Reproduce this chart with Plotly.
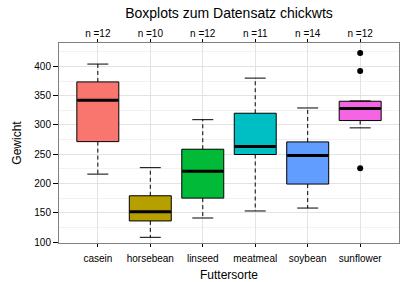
import plotly.graph_objects as go

# ---- data (chickwts, Tukey five-number summaries) ----
categories = ["casein", "horsebean", "linseed", "meatmeal", "soybean", "sunflower"]
n_counts = [12, 10, 12, 11, 14, 12]
lower_whisker = [216, 108, 141, 153, 158, 295]
q1 = [271.5, 136, 175, 249.5, 199, 307.5]
median = [342, 151.5, 221, 263, 248, 328]
q3 = [373.5, 179, 258.5, 320, 271, 340.5]
upper_whisker = [404, 227, 309, 380, 329, 341]
outlier_group = ["sunflower", "sunflower", "sunflower"]
outlier_value = [423, 392, 226]
colors = ["#F8766D", "#B79F00", "#00BA38", "#00BFC4", "#619CFF", "#F564E3"]

FONT = "Liberation Sans, Arial, sans-serif"
pos = list(range(1, len(categories) + 1))
box_w = 0.8
cap_w = 0.4

fig = go.Figure()

# whiskers (dashed) and caps
wx, wy, cx, cy = [], [], [], []
for p, lo, a, b, hi in zip(pos, lower_whisker, q1, q3, upper_whisker):
    wx += [p, p, None, p, p, None]
    wy += [b, hi, None, a, lo, None]
    cx += [p - cap_w / 2, p + cap_w / 2, None, p - cap_w / 2, p + cap_w / 2, None]
    cy += [hi, hi, None, lo, lo, None]
fig.add_trace(go.Scatter(x=wx, y=wy, mode="lines",
                         line=dict(color="black", width=1, dash="4px,3px"),
                         hoverinfo="skip"))
fig.add_trace(go.Scatter(x=cx, y=cy, mode="lines",
                         line=dict(color="black", width=1), hoverinfo="skip"))

# boxes
for p, a, m, b, c in zip(pos, q1, median, q3, colors):
    fig.add_trace(go.Box(x=[p], q1=[a], median=[m], q3=[b],
                         lowerfence=[a], upperfence=[b],
                         width=box_w, whiskerwidth=0, boxpoints=False,
                         fillcolor=c, line=dict(color="black", width=1)))

# thick medians
mx, my = [], []
for p, m in zip(pos, median):
    mx += [p - box_w / 2 + 0.01, p + box_w / 2 - 0.01, None]
    my += [m, m, None]
fig.add_trace(go.Scatter(x=mx, y=my, mode="lines",
                         line=dict(color="black", width=3), hoverinfo="skip"))

# outliers
fig.add_trace(go.Scatter(x=[pos[categories.index(g)] for g in outlier_group],
                         y=outlier_value, mode="markers",
                         marker=dict(color="black", size=6), hoverinfo="skip"))

# invisible trace for the top axis
fig.add_trace(go.Scatter(x=pos, y=median, xaxis="x2", mode="markers",
                         marker=dict(opacity=0), hoverinfo="skip"))

xrange = [0.26, 6.74]
tickfont = dict(family=FONT, size=10, color="black")
fig.update_layout(
    width=414, height=282,
    margin=dict(l=59, r=15, t=43, b=39),
    paper_bgcolor="white", plot_bgcolor="white",
    showlegend=False,
    boxmode="overlay",
    font=dict(family=FONT, size=10, color="black"),
    title=dict(text="Boxplots zum Datensatz chickwts", x=0.5, xref="paper",
               xanchor="center", y=1 - 13 / 282, yref="container", yanchor="middle",
               font=dict(family=FONT, size=14, color="black")),
    xaxis=dict(range=xrange, tickvals=pos, ticktext=categories, tickfont=tickfont,
               ticks="outside", ticklen=3, tickcolor="black", automargin=False,
               ticklabelstandoff=3,
               showgrid=True, gridcolor="#e3e3e3", gridwidth=1,
               showline=True, linecolor="#808080", linewidth=1, mirror=True,
               zeroline=False,
               title=dict(text="Futtersorte", font=dict(family=FONT, size=12), standoff=10)),
    xaxis2=dict(range=xrange, overlaying="x", side="top", tickvals=pos,
                ticktext=[f"n ={n}" for n in n_counts], tickfont=tickfont,
                ticks="outside", ticklen=3, tickcolor="black", automargin=False,
                ticklabelstandoff=-2,
                showgrid=False, showline=False, zeroline=False),
    yaxis=dict(range=[98.3, 440], tickvals=[100, 150, 200, 250, 300, 350, 400],
               tickfont=tickfont, ticks="outside", ticklen=5, tickcolor="black",
               automargin=False,
               showgrid=True, gridcolor="#e3e3e3", gridwidth=1,
               minor=dict(dtick=25, tick0=0, showgrid=True, gridcolor="#f2f2f2", ticks=""),
               showline=True, linecolor="#808080", linewidth=1, mirror=True,
               zeroline=False,
               title=dict(text="Gewicht", font=dict(family=FONT, size=12), standoff=10)),
)

fig.write_html("out.html")
